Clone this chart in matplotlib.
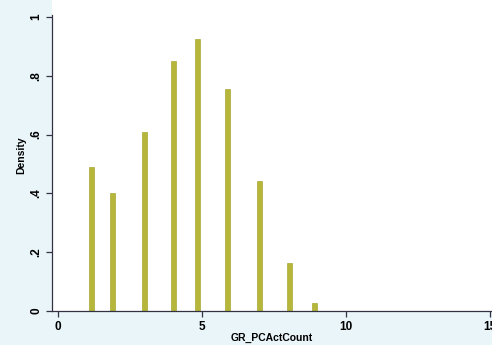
import matplotlib
matplotlib.use("Agg")
import matplotlib.pyplot as plt

# bar positions (GR_PCActCount) and densities
counts = [1.15, 1.9, 3.0, 4.0, 4.85, 5.9, 7.0, 8.05, 8.9]
density = [0.49, 0.40, 0.61, 0.85, 0.925, 0.755, 0.443, 0.163, 0.028]

x_ticks = [0, 5, 10, 15]
y_ticks = [0, 0.2, 0.4, 0.6, 0.8, 1.0]
y_labels = ["0", ".2", ".4", ".6", ".8", "1"]

plt.rcParams['font.family'] = ['Liberation Sans', 'DejaVu Sans']

fig = plt.figure(figsize=(4.92, 3.45), dpi=100, facecolor="#e9f5f9")
ax = fig.add_axes([0.1057, 0.0986, 0.894, 0.9014])
ax.set_facecolor("white")

ax.bar(counts, density, width=0.17, color="#b6b63a", edgecolor="#a9a835", linewidth=0.5)

ax.set_xlim(-0.21, 15.07)
ax.set_ylim(0, 1.058)
ax.set_xticks(x_ticks)
ax.set_xticklabels([str(t) for t in x_ticks], fontsize=8.5, fontweight="bold")
ax.set_yticks(y_ticks)
ax.set_yticklabels(y_labels, fontsize=8.5, fontweight="bold", rotation=90, va="center")

ax.spines["top"].set_visible(False)
ax.spines["right"].set_visible(False)
ax.spines["left"].set_bounds(0, 1.007)
for s in ["left", "bottom"]:
    ax.spines[s].set_color("#333344")
    ax.spines[s].set_linewidth(0.9)
ax.tick_params(axis="both", direction="out", length=4, width=0.9, color="#333344", pad=3)

ax.set_xlabel("GR_PCActCount", fontsize=7.5, fontweight="bold", labelpad=0)
ax.set_ylabel("Density", fontsize=7.5, fontweight="bold", labelpad=3)

fig.savefig("out.png", dpi=100, facecolor=fig.get_facecolor())
